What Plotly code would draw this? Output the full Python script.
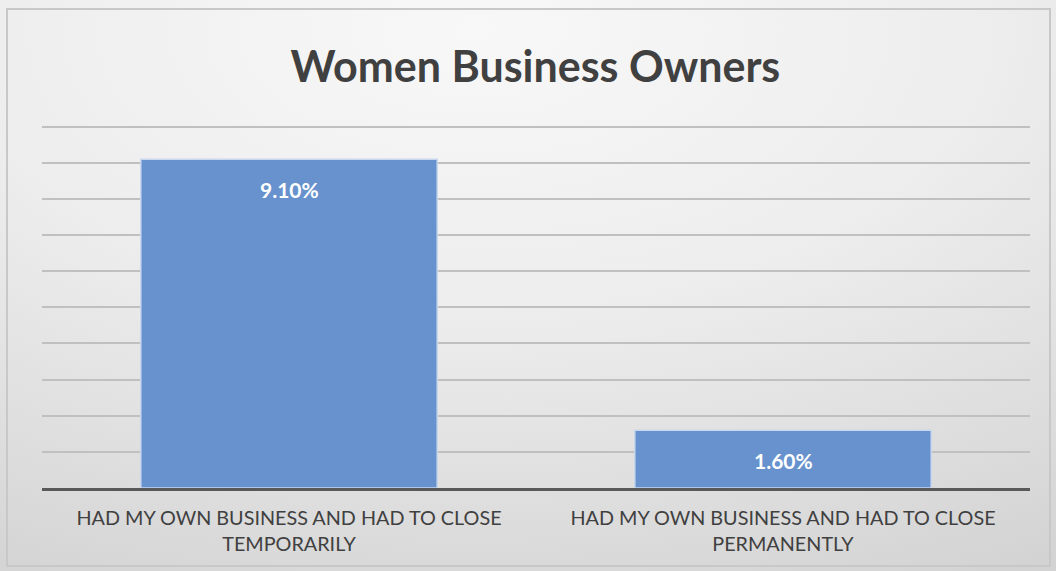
import base64

import plotly.graph_objects as go

categories = [
    "HAD MY OWN BUSINESS AND HAD TO CLOSE<br>TEMPORARILY",
    "HAD MY OWN BUSINESS AND HAD TO CLOSE<br>PERMANENTLY",
]
values = [9.1, 1.6]
value_labels = ["9.10%", "1.60%"]

BAR_COLOR = "#6792cd"
TEXT_COLOR = "#404040"
FONT = "Lato, 'Open Sans', sans-serif"

# soft grey gradient behind the chart, like the spreadsheet original
gradient_svg = """<svg xmlns='http://www.w3.org/2000/svg' width='1056' height='571'>
<defs><radialGradient id='g' cx='0.45' cy='0.05' r='1.1'>
<stop offset='0' stop-color='#f8f8f8'/><stop offset='0.45' stop-color='#ededed'/>
<stop offset='1' stop-color='#d2d2d2'/></radialGradient></defs>
<rect width='1056' height='571' fill='url(#g)'/></svg>"""
gradient_uri = "data:image/svg+xml;base64," + base64.b64encode(gradient_svg.encode()).decode()

PLOT_W, PLOT_H = 988, 365
M_L, M_T = 42, 123

fig = go.Figure()
fig.add_trace(
    go.Bar(
        x=categories,
        y=values,
        width=0.6,
        marker={"color": BAR_COLOR, "line": {"color": "#c9d8ee", "width": 1.5}},
        hoverinfo="skip",
    )
)

for cat, val, label in zip(categories, values, value_labels):
    fig.add_annotation(
        x=cat,
        y=val,
        text=f"<b>{label}</b>",
        showarrow=False,
        yshift=-30,
        font={"family": FONT, "size": 21, "color": "white"},
    )

fig.update_layout(
    width=1056,
    height=571,
    margin={"l": M_L, "r": 1056 - M_L - PLOT_W, "t": M_T, "b": 571 - M_T - PLOT_H},
    paper_bgcolor="white",
    plot_bgcolor="rgba(0,0,0,0)",
    title={
        "text": "<b>Women Business Owners</b>",
        "x": 0.507,
        "xanchor": "center",
        "y": 0.883,
        "yanchor": "middle",
        "font": {"family": FONT, "size": 43, "color": TEXT_COLOR},
    },
    showlegend=False,
    bargap=0.4,
    images=[
        {
            "source": gradient_uri,
            "xref": "paper",
            "yref": "paper",
            "x": -M_L / PLOT_W,
            "y": 1 + M_T / PLOT_H,
            "sizex": 1056 / PLOT_W,
            "sizey": 571 / PLOT_H,
            "xanchor": "left",
            "yanchor": "top",
            "sizing": "stretch",
            "layer": "below",
        }
    ],
    shapes=[
        {
            "type": "rect",
            "xref": "paper",
            "yref": "paper",
            "x0": (7 - M_L) / PLOT_W,
            "x1": (1050 - M_L) / PLOT_W,
            "y0": 1 - (566 - M_T) / PLOT_H,
            "y1": 1 + (M_T - 9) / PLOT_H,
            "line": {"color": "#c8c8c8", "width": 2},
            "fillcolor": "rgba(0,0,0,0)",
            "layer": "below",
        }
    ],
)

fig.update_xaxes(
    showline=True,
    linecolor="#595959",
    linewidth=3,
    ticks="",
    ticklabelstandoff=10,
    tickfont={"family": FONT, "size": 19.8, "color": TEXT_COLOR},
    showgrid=False,
)
fig.update_yaxes(
    range=[0, 10.1],
    dtick=1,
    showticklabels=False,
    showgrid=True,
    gridcolor="#c0c0c0",
    gridwidth=1.5,
    zeroline=False,
)

fig.write_html(
    "out.html",
    config={"displayModeBar": False},
    post_script="document.body.style.margin='0';document.body.style.overflow='hidden';",
)
